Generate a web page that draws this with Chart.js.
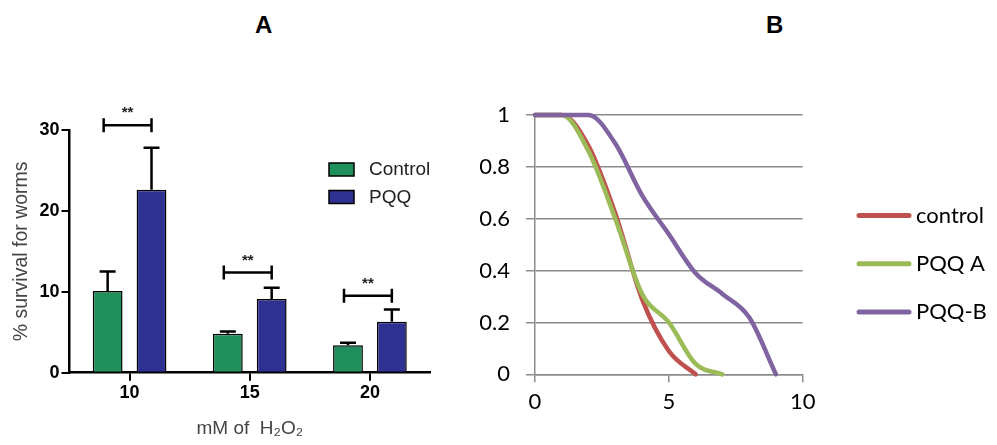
<!DOCTYPE html>
<html>
<head>
<meta charset="utf-8">
<script src="https://cdn.jsdelivr.net/npm/chart.js@4.4.0/dist/chart.umd.min.js"></script>
<style>
  html, body { margin: 0; padding: 0; background: #fff; }
  #wrap { position: relative; width: 997px; height: 445px; overflow: hidden; }
  canvas { position: absolute; top: 0; }
  #cA { left: 0; }
  #cB { left: 480px; }
  .lbl { position: absolute; font: bold 24px "Liberation Sans", Arial, sans-serif; color: #000; }
</style>
</head>
<body>
<div id="wrap">
  <div class="lbl" style="left:255px; top:11px;">A</div>
  <div class="lbl" style="left:766px; top:11px;">B</div>
  <canvas id="cA" width="480" height="445"></canvas>
  <canvas id="cB" width="517" height="445"></canvas>
</div>
<script>
// ===============================
// PANEL A - % survival vs H2O2
// ===============================
const doses = ["10", "15", "20"];
const controlMean = [10.1, 4.8, 3.4];
const controlErr = [2.4, 0.3, 0.3];
const pqqMean = [22.6, 9.1, 6.3];
const pqqErr = [5.2, 1.4, 1.5];
const sigLevel = [30.6, 12.4, 9.5];   // height of the ** brackets

// ===============================
// PANEL B - survival curves
// ===============================
const days = [0, 1, 2, 3, 4, 5, 6, 7, 8, 9];
const survControl = [1, 1, 0.88, 0.62, 0.29, 0.09, 0];
const survPqqA = [1, 1, 0.86, 0.6, 0.31, 0.2, 0.04, 0];
const survPqqB = [1, 1, 1, 0.89, 0.69, 0.54, 0.39, 0.31, 0.22, 0];

const ARIAL = '"Liberation Sans", Arial, sans-serif';
const CALI = 'Lato, "Open Sans", sans-serif';

const pairs = (ys) => ys.map((v, i) => ({ x: days[i], y: v }));

// error bars, ** brackets and the legend box for panel A
const panelAExtras = {
    id: 'panelAExtras',
    afterDatasetsDraw(chart) {
        const ctx = chart.ctx, y = chart.scales.y;
        const errs = [controlErr, pqqErr];
        ctx.save();
        ctx.strokeStyle = '#000';
        ctx.lineWidth = 2.5;
        chart.data.datasets.forEach((ds, i) => {
            chart.getDatasetMeta(i).data.forEach((bar, j) => {
                const top = y.getPixelForValue(ds.data[j] + errs[i][j]);
                ctx.beginPath();
                ctx.moveTo(bar.x, bar.y);
                ctx.lineTo(bar.x, top);
                ctx.moveTo(bar.x - 8, top);
                ctx.lineTo(bar.x + 8, top);
                ctx.stroke();
            });
        });

        const g = chart.getDatasetMeta(0).data, b = chart.getDatasetMeta(1).data;
        ctx.font = 'bold 15px ' + ARIAL;
        ctx.textAlign = 'center';
        ctx.textBaseline = 'middle';
        sigLevel.forEach((lv, j) => {
            const x1 = g[j].x - 4, x2 = b[j].x, yy = y.getPixelForValue(lv);
            ctx.beginPath();
            ctx.moveTo(x1, yy); ctx.lineTo(x2, yy);
            ctx.moveTo(x1, yy - 7); ctx.lineTo(x1, yy + 7);
            ctx.moveTo(x2, yy - 7); ctx.lineTo(x2, yy + 7);
            ctx.stroke();
            ctx.fillStyle = '#222';
            ctx.fillText('**', (x1 + x2) / 2, yy - 12);
        });

        // legend
        ctx.lineWidth = 1.5;
        ctx.textAlign = 'left';
        ctx.font = '19px ' + ARIAL;
        chart.data.datasets.forEach((ds, i) => {
            const top = 163 + i * 27.5;
            ctx.fillStyle = ds.backgroundColor;
            ctx.fillRect(329, top, 25, 13);
            ctx.strokeRect(329, top, 25, 13);
            ctx.fillStyle = '#222';
            ctx.fillText(ds.label, 369, top + 7);
        });
        ctx.restore();
    }
};

new Chart(document.getElementById('cA'), {
    type: 'bar',
    data: {
        labels: doses,
        datasets: [
            { label: 'Control', data: controlMean, backgroundColor: '#1f8f5c', borderColor: '#000', borderWidth: 1.5 },
            { label: 'PQQ', data: pqqMean, backgroundColor: '#2e3192', borderColor: '#000', borderWidth: 1.5 }
        ]
    },
    options: {
        responsive: false,
        animation: false,
        devicePixelRatio: 1,
        categoryPercentage: 0.73,
        barPercentage: 0.68,
        layout: { padding: { left: 0, top: 130, right: 50, bottom: 0 } },
        plugins: { legend: { display: false }, tooltip: { enabled: false } },
        scales: {
            x: {
                grid: { offset: false, drawOnChartArea: false, tickLength: 8, color: '#000', lineWidth: 2 },
                border: { color: '#000', width: 2.5 },
                ticks: { color: '#000', padding: 2, font: { family: ARIAL, size: 18, weight: 'bold' } },
                title: { display: true, text: 'mM of  H₂O₂', color: '#444', font: { family: ARIAL, size: 19 }, padding: { top: 0, bottom: 5 } },
                afterFit(s) { s.height = 72.3; }
            },
            y: {
                min: 0, max: 30,
                grid: { drawOnChartArea: false, tickLength: 8, color: '#000', lineWidth: 2 },
                border: { color: '#000', width: 2.5 },
                ticks: { stepSize: 10, color: '#000', padding: 2, font: { family: ARIAL, size: 18, weight: 'bold' } },
                title: { display: true, text: '% survival for worms', color: '#444', font: { family: ARIAL, size: 19.5 }, padding: { top: 10, bottom: 0 } },
                afterFit(s) { s.width = 69.5; }
            }
        }
    },
    plugins: [panelAExtras]
});

// legend for panel B
const panelBLegend = {
    id: 'panelBLegend',
    afterDraw(chart) {
        const ctx = chart.ctx;
        ctx.save();
        ctx.lineWidth = 5;
        ctx.lineCap = 'round';
        ctx.font = '22px ' + CALI;
        ctx.textBaseline = 'middle';
        ctx.fillStyle = '#000';
        chart.data.datasets.forEach((ds, i) => {
            const yy = 215.5 + i * 48.2;
            ctx.strokeStyle = ds.borderColor;
            ctx.beginPath();
            ctx.moveTo(379, yy); ctx.lineTo(429, yy);
            ctx.stroke();
            ctx.fillText(ds.label, 436, yy);
        });
        ctx.restore();
    }
};

const greyAxis = '#8c8c8c';

new Chart(document.getElementById('cB'), {
    type: 'line',
    data: {
        datasets: [
            { label: 'control', data: pairs(survControl), borderColor: '#c0504d', order: 3 },
            { label: 'PQQ A', data: pairs(survPqqA), borderColor: '#9bbb59', order: 2 },
            { label: 'PQQ-B', data: pairs(survPqqB), borderColor: '#8064a2', order: 1 }
        ]
    },
    options: {
        responsive: false,
        animation: false,
        devicePixelRatio: 1,
        layout: { padding: { left: 0, top: 115, right: 194.3, bottom: 0 } },
        elements: {
            line: { borderWidth: 4.5, cubicInterpolationMode: 'monotone', borderCapStyle: 'round', borderJoinStyle: 'round' },
            point: { radius: 0 }
        },
        datasets: { line: { clip: false } },
        plugins: { legend: { display: false }, tooltip: { enabled: false } },
        scales: {
            x: {
                type: 'linear', min: 0, max: 10,
                grid: { drawOnChartArea: false, tickLength: 8, color: greyAxis, lineWidth: 1.5 },
                border: { color: greyAxis, width: 1.5 },
                ticks: { stepSize: 5, color: '#000', padding: 6, font: { family: CALI, size: 22 } },
                afterFit(s) { s.height = 70.7; }
            },
            y: {
                min: 0, max: 1,
                grid: { tickLength: 9, color: greyAxis, lineWidth: 1.5 },
                border: { color: greyAxis, width: 1.5 },
                ticks: {
                    stepSize: 0.2, color: '#000', padding: 16, font: { family: CALI, size: 22 },
                    callback: (v) => String(+v.toFixed(1))
                },
                afterFit(s) { s.width = 55; }
            }
        }
    },
    plugins: [panelBLegend]
});
</script>
</body>
</html>
